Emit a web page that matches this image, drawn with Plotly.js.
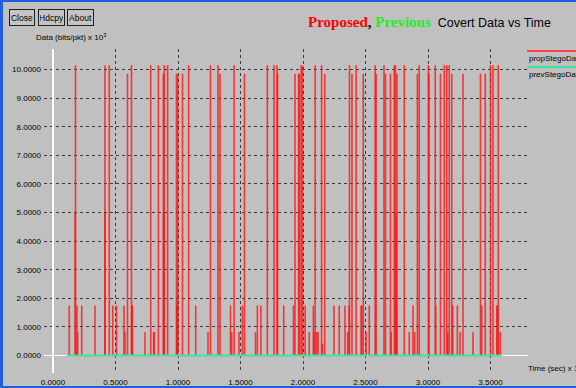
<!DOCTYPE html>
<html>
<head>
<meta charset="utf-8">
<script src="https://cdn.plot.ly/plotly-3.0.1.min.js"></script>
<style>
  html, body { margin: 0; padding: 0; background: #c0c0c0; overflow: hidden; }
  #chart { width: 576px; height: 388px; }
</style>
</head>
<body>
<div id="chart"></div>
<script>
// ---- Data ----
// Proposed: spike times (sec x 10^3) and spike heights (bits/pkt x 10^3)
const propTimes = [
  0.130, 0.177, 0.180, 0.192, 0.197, 0.230, 0.336, 0.415, 0.416, 0.450,
  0.478, 0.508, 0.568, 0.576, 0.596, 0.628, 0.632, 0.634, 0.736, 0.782,
  0.805, 0.810, 0.843, 0.883, 0.885, 0.890, 0.917, 0.988, 0.990, 0.995,
  0.998, 1.036, 1.085, 1.142, 1.240, 1.260, 1.320, 1.336, 1.420, 1.430,
  1.449, 1.488, 1.515, 1.532, 1.620, 1.635, 1.663, 1.715, 1.768, 1.792,
  1.797, 1.846, 1.924, 1.936, 1.965, 1.970, 1.985, 1.995, 2.017, 2.050,
  2.083, 2.087, 2.097, 2.110, 2.120, 2.149, 2.154, 2.174, 2.248, 2.290,
  2.336, 2.357, 2.368, 2.372, 2.392, 2.425, 2.465, 2.470, 2.482, 2.505,
  2.530, 2.577, 2.585, 2.648, 2.660, 2.700, 2.705, 2.730, 2.740, 2.745,
  2.748, 2.752, 2.810, 2.850, 2.880, 2.893, 2.915, 2.930, 3.003, 3.008,
  3.058, 3.062, 3.100, 3.130, 3.150, 3.158, 3.170, 3.190, 3.198, 3.235,
  3.256, 3.280, 3.360, 3.420, 3.430, 3.458, 3.500, 3.520, 3.550, 3.556,
  3.562, 3.578
];
const propValues = [
  1.75, 5.00, 10.15, 1.75, 0.82, 1.75, 1.75, 5.00, 10.15, 10.15,
  1.75, 1.75, 1.75, 0.82, 9.85, 10.15, 1.75, 1.75, 0.82, 10.15,
  0.82, 0.82, 10.15, 9.85, 5.00, 10.15, 10.15, 9.85, 1.75, 1.75,
  9.85, 9.85, 10.15, 1.75, 0.82, 10.15, 10.15, 9.85, 1.75, 0.82,
  10.15, 0.82, 1.75, 9.85, 0.82, 1.75, 1.75, 10.15, 10.15, 10.15,
  9.85, 1.75, 1.75, 9.85, 9.85, 9.85, 10.15, 10.15, 1.75, 0.82,
  1.75, 0.82, 10.15, 0.82, 0.82, 10.15, 0.42, 9.85, 1.75, 1.75,
  1.75, 0.82, 1.75, 10.15, 9.85, 10.15, 1.75, 1.75, 9.85, 0.82,
  1.75, 10.15, 9.85, 10.15, 9.85, 9.85, 0.82, 10.15, 10.15, 5.00,
  1.75, 9.85, 10.15, 0.82, 1.75, 0.82, 9.85, 10.15, 10.15, 9.85,
  10.15, 1.75, 9.85, 10.15, 10.15, 0.82, 10.15, 9.85, 1.75, 1.75,
  0.82, 9.85, 0.82, 9.85, 1.75, 9.85, 10.15, 10.15, 1.75, 1.75,
  10.15, 0.82
];
// Previous: flat near zero over the same time span
const prevTimes = [0.11, 3.59];
const prevValues = [0.0, 0.0];

const yTickVals = [0, 1, 2, 3, 4, 5, 6, 7, 8, 9, 10];
const xTickVals = [0, 0.5, 1.0, 1.5, 2.0, 2.5, 3.0, 3.5];

// Each spike drawn as a vertical segment from 0 to its value
const spikeX = [], spikeY = [];
propTimes.forEach((t, i) => {
  spikeX.push(t, t, null);
  spikeY.push(0, propValues[i], null);
});

// ---- Layout geometry ----
const W = 576, H = 388;
const M = { l: 44, r: 48, t: 49, b: 15 };
const px2x = px => (px - M.l) / (W - M.l - M.r);
const px2y = py => 1 - (py - M.t) / (H - M.t - M.b);

const sans = '"Liberation Sans", Arial, sans-serif';
const serif = "'Liberation Serif', 'DejaVu Serif', serif";
const gridColor = '#3a3a3a';
const green = '#3fe3a0';

const traces = [
  {
    type: 'scatter',
    mode: 'lines',
    name: 'propStegoData',
    x: spikeX,
    y: spikeY,
    connectgaps: false,
    line: { color: 'rgba(255,20,20,0.8)', width: 1.6 },
    showlegend: false
  },
  {
    type: 'scatter',
    mode: 'lines',
    name: 'prevStegoData',
    x: prevTimes,
    y: prevValues,
    line: { color: green, width: 2 },
    showlegend: false
  }
];

function button(text, x0, x1, y0, y1) {
  return {
    xref: 'paper', yref: 'paper',
    x: px2x((x0 + x1) / 2), y: px2y((y0 + y1) / 2),
    xanchor: 'center', yanchor: 'middle',
    text: text, showarrow: false,
    width: x1 - x0 - 4, height: y1 - y0 - 4,
    borderpad: 1, borderwidth: 1, bordercolor: '#202020',
    bgcolor: '#c4c4c4',
    font: { family: sans, size: 8.5, color: '#000' }
  };
}

const layout = {
  width: W, height: H,
  margin: M,
  paper_bgcolor: '#c0c0c0',
  plot_bgcolor: '#c0c0c0',
  showlegend: false,
  xaxis: {
    range: [(44 - 53) / 125, (528 - 53) / 125],
    tickvals: xTickVals,
    tickformat: '.4f',
    showgrid: true,
    gridcolor: gridColor,
    griddash: 'dot',
    gridwidth: 1,
    zeroline: true,
    zerolinecolor: '#ffffff',
    zerolinewidth: 1.5,
    showline: false,
    ticks: '',
    ticklabelstandoff: 3,
    tickfont: { family: sans, size: 8, color: '#000' },
    fixedrange: true
  },
  yaxis: {
    range: [(355.5 - 373) / 28.6, (355.5 - 49) / 28.6],
    tickvals: yTickVals,
    tickformat: '.4f',
    showgrid: true,
    gridcolor: gridColor,
    griddash: 'dot',
    gridwidth: 1,
    zeroline: true,
    zerolinecolor: '#ffffff',
    zerolinewidth: 1.5,
    showline: false,
    ticks: '',
    ticklabelstandoff: 2,
    tickfont: { family: sans, size: 8, color: '#000' },
    fixedrange: true
  },
  shapes: [
    // window frame (blue)
    { type: 'rect', xref: 'paper', yref: 'paper', x0: px2x(0), x1: px2x(3), y0: px2y(388), y1: px2y(0), fillcolor: '#1f5fe0', line: { width: 0 } },
    { type: 'rect', xref: 'paper', yref: 'paper', x0: px2x(0), x1: px2x(576), y0: px2y(2), y1: px2y(0), fillcolor: '#1f5fe0', line: { width: 0 } },
    { type: 'rect', xref: 'paper', yref: 'paper', x0: px2x(0), x1: px2x(576), y0: px2y(388), y1: px2y(386), fillcolor: '#1f5fe0', line: { width: 0 } },
    // legend keys
    { type: 'line', xref: 'paper', yref: 'paper', x0: px2x(527), x1: px2x(578), y0: px2y(51), y1: px2y(51), line: { color: '#ff4040', width: 2 } },
    { type: 'line', xref: 'paper', yref: 'paper', x0: px2x(527), x1: px2x(578), y0: px2y(67), y1: px2y(67), line: { color: green, width: 2 } }
  ],
  annotations: [
    // title
    {
      xref: 'paper', yref: 'paper', x: px2x(306), y: px2y(22),
      xanchor: 'left', yanchor: 'middle', showarrow: false,
      text: '<span style="font-family:' + serif + ';font-weight:bold;color:#ff0000;font-size:15px">Proposed</span>' +
            '<span style="font-family:' + serif + ';font-weight:bold;color:#000;font-size:15px">, </span>' +
            '<span style="font-family:' + serif + ';font-weight:bold;color:#22ee22;font-size:15px">Previous</span>' +
            '<span style="font-size:12.5px">  Covert Data vs Time</span>',
      font: { family: sans, size: 12.5, color: '#000' }
    },
    // axis titles
    {
      xref: 'paper', yref: 'paper', x: px2x(34), y: px2y(37),
      xanchor: 'left', yanchor: 'middle', showarrow: false,
      text: 'Data (bits/pkt) x 10<sup>3</sup>',
      font: { family: sans, size: 8, color: '#000' }
    },
    {
      xref: 'paper', yref: 'paper', x: px2x(526), y: px2y(368),
      xanchor: 'left', yanchor: 'middle', showarrow: false,
      text: 'Time (sec) x 10<sup>3</sup>',
      font: { family: sans, size: 8, color: '#000' }
    },
    // legend labels
    {
      xref: 'paper', yref: 'paper', x: px2x(527), y: px2y(58),
      xanchor: 'left', yanchor: 'middle', showarrow: false,
      text: 'propStegoData',
      font: { family: sans, size: 8, color: '#000' }
    },
    {
      xref: 'paper', yref: 'paper', x: px2x(527), y: px2y(74),
      xanchor: 'left', yanchor: 'middle', showarrow: false,
      text: 'prevStegoData',
      font: { family: sans, size: 8, color: '#000' }
    },
    // toolbar buttons
    button('Close', 9, 35, 9, 26),
    button('Hdcpy', 38, 65, 9, 26),
    button('About', 67, 94, 9, 26)
  ]
};

Plotly.newPlot('chart', traces, layout, { staticPlot: true, displayModeBar: false });
</script>
</body>
</html>
